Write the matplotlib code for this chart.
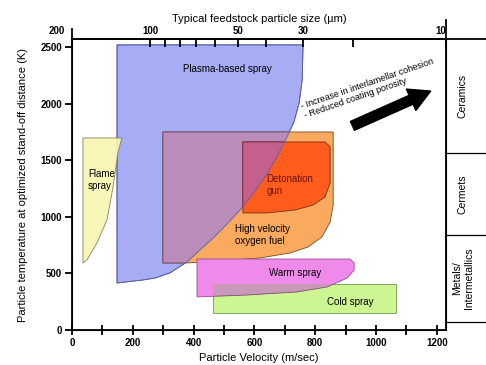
import numpy as np
import matplotlib.pyplot as plt
from matplotlib.patches import Polygon
from matplotlib.lines import Line2D
from matplotlib.transforms import ScaledTranslation

plt.rcParams['font.family'] = ['Liberation Sans', 'DejaVu Sans']

# outlines of each spray process (velocity in m/s, temperature in K)
plasma_v = [148, 760, 757, 747, 730, 707, 674, 635, 592, 553, 507, 461, 421, 378, 322, 273, 234, 148]
plasma_t = [2518, 2518, 2208, 2005, 1837, 1705, 1528, 1352, 1193, 1060, 928, 804, 707, 601, 504, 459, 442, 415]

flame_v = [36, 164, 151, 135, 115, 82, 49, 36]
flame_t = [1696, 1696, 1564, 1263, 972, 769, 618, 592]

hvof_v = [299, 859, 859, 849, 822, 776, 717, 618, 487, 378, 299]
hvof_t = [1749, 1749, 1104, 954, 822, 733, 680, 636, 610, 592, 592]

det_v = [562, 832, 849, 849, 832, 793, 734, 641, 562]
det_t = [1661, 1661, 1617, 1299, 1175, 1104, 1060, 1034, 1034]

warm_v = [411, 914, 928, 928, 905, 839, 740, 576, 411]
warm_t = [627, 627, 592, 530, 459, 380, 336, 309, 292]

cold_v = [464, 1066, 1066, 464]
cold_t = [406, 406, 150, 150]

# top axis: feedstock particle size and where it falls on the velocity scale
size_ticks = [200, 100, 90, 80, 70, 60, 50, 40, 30, 20, 10]
size_pos = [0, 257, 306, 355, 408, 470, 546, 638, 760, 924, 1230]
size_shown = [200, 100, 50, 30, 10]

# material classes on the right
materials = ['Ceramics', 'Cermets', 'Metals/\nIntermetallics']
material_edges = [2570, 1564, 839, 75]

fig = plt.figure(figsize=(4.86, 3.65), dpi=100)
ax = fig.add_axes([72/486, 35/365, 374/486, 291/365])
ax.set_xlim(0, 1230)
ax.set_ylim(0, 2570)


def region(v, t, face, edge, z, alpha=1.0):
    p = Polygon(np.column_stack([v, t]), closed=True, facecolor=face,
                edgecolor=edge, lw=0.6, zorder=z, alpha=alpha)
    ax.add_patch(p)
    return p


plasma = region(plasma_v, plasma_t, '#a6adf4', '#5a5ea0', 1)
hvof = region(hvof_v, hvof_t, '#f9aa5e', '#7a4a20', 2)
hvof_in = region(hvof_v, hvof_t, '#b98cba', '#6a4a6a', 3)
hvof_in.set_clip_path(plasma)
det = region(det_v, det_t, '#ff5c1e', '#7a2a10', 4)
det_in = region(det_v, det_t, '#c4608e', '#6a2a40', 5)
det_in.set_clip_path(plasma)
region(plasma_v, plasma_t, 'none', '#5a5ea0', 6)
region(flame_v, flame_t, '#f8f5b2', '#7a7a50', 7, alpha=0.92)
warm = region(warm_v, warm_t, '#f08aea', '#9a4a9a', 2)
cold = region(cold_v, cold_t, '#cdf592', '#6a9a50', 3)
warm_cold = region(warm_v, warm_t, '#c99ab8', '#7a4a7a', 4)
warm_cold.set_clip_path(cold)

# process labels
ax.text(510, 2305, 'Plasma-based spray', fontsize=7, ha='center', va='center', zorder=10)
ax.text(52, 1325, 'Flame\nspray', fontsize=7, ha='left', va='center', zorder=10)
ax.text(640, 1281, 'Detonation\ngun', fontsize=7, ha='left', va='center', color='#6a1208', zorder=10)
ax.text(535, 840, 'High velocity\noxygen fuel', fontsize=7, ha='left', va='center', zorder=10)
ax.text(735, 505, 'Warm spray', fontsize=7, ha='center', va='center', zorder=10)
ax.text(915, 250, 'Cold spray', fontsize=7, ha='center', va='center', zorder=10)

# trend arrow
ax.annotate('', xy=(1188, 2120), xytext=(914, 1793),
            arrowprops=dict(arrowstyle='simple,head_width=1.2,head_length=1.1,tail_width=0.5',
                            color='black', mutation_scale=14), zorder=10)
ax.text(978, 2135, '- Increase in interlamellar cohesion\n- Reduced coating porosity',
        fontsize=6.5, rotation=19, rotation_mode='anchor', ha='center', va='center',
        multialignment='left', linespacing=1.1, zorder=10)

# axes and ticks
for s in ['left', 'bottom', 'top', 'right']:
    ax.spines[s].set_linewidth(1.3)
ax.set_xticks(np.arange(0, 1201, 100))
ax.set_xticklabels([str(x) if x % 200 == 0 else '' for x in range(0, 1201, 100)])
ax.set_yticks(np.arange(0, 2501, 500))
ax.tick_params(axis='x', direction='inout', length=7, width=1.3, labelsize=7, pad=2)
ax.tick_params(axis='y', direction='out', length=5, width=1.3, labelsize=7, pad=2)
for lab in ax.get_xticklabels() + ax.get_yticklabels():
    lab.set_fontweight('bold')
ax.set_xlabel('Particle Velocity (m/sec)', fontsize=8, labelpad=4)
ax.set_ylabel('Particle temperature at optimized stand-off distance (K)', fontsize=8, labelpad=9)

top = ax.twiny()
top.set_xlim(ax.get_xlim())
top.set_xticks(size_pos)
top.set_xticklabels([str(s) if s in size_shown else '' for s in size_ticks])
top.tick_params(axis='x', direction='in', length=6, width=1.3, labelsize=7, pad=2)
for lab in top.get_xticklabels():
    lab.set_fontweight('bold')
top_labels = top.get_xticklabels()
top_labels[0].set_ha('right')
top_labels[0].set_transform(top_labels[0].get_transform() + ScaledTranslation(-7/100, 0, fig.dpi_scale_trans))
top_labels[-1].set_ha('right')
top.spines['top'].set_linewidth(1.3)
top.set_xlabel('Typical feedstock particle size (\u00b5m)', fontsize=8, labelpad=3)

# small extensions of the side spines above the top axis
ax.add_line(Line2D([0, 0], [1, 1.035], transform=ax.transAxes, color='black', lw=1.3, clip_on=False))
ax.add_line(Line2D([1, 1], [1, 1.065], transform=ax.transAxes, color='black', lw=1.3, clip_on=False))

# material panel on the right
pax = fig.add_axes([446/486, 35/365, 40/486, 291/365])
pax.set_xlim(0, 1)
pax.set_ylim(ax.get_ylim())
pax.axis('off')
pax.plot([0, 1], [material_edges[0]] * 2, color='black', lw=1.3, clip_on=False)
for e in material_edges[1:]:
    pax.plot([0, 1], [e, e], color='black', lw=0.9, clip_on=False)
for i, m in enumerate(materials):
    pax.text(0.42, (material_edges[i] + material_edges[i + 1]) / 2, m, rotation=90,
             fontsize=7.5, ha='center', va='center', multialignment='center')

fig.savefig('out.png', dpi=100)
